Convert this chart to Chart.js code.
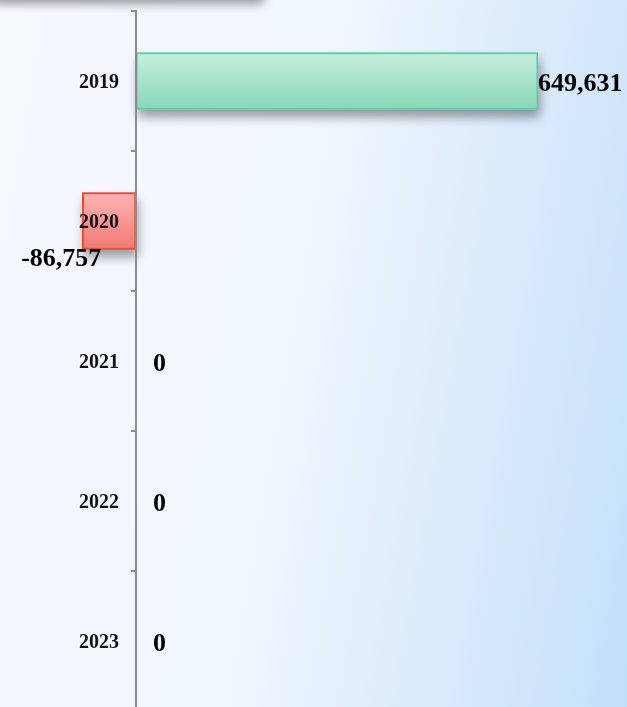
<!DOCTYPE html>
<html>
<head>
<meta charset="utf-8">
<script src="https://cdn.jsdelivr.net/npm/chart.js@4"></script>
<style>
    html, body {margin: 0; padding: 0; overflow: hidden;}
    body {
        width: 627px; height: 707px; position: relative;
        background: linear-gradient(100deg, #f6f9fe 0%, #f1f7fe 45%, #dbebfb 72%, #c2e0f9 100%);
    }
    #topbox {
        position: absolute; left: -10px; top: -40px; width: 275px; height: 40px;
        background: #f4f8fd; border-radius: 6px;
        box-shadow: 0 4px 10px rgba(0, 0, 0, 0.38);
    }
    #wrap {position: absolute; left: 0; top: 0; width: 627px; height: 720px;}
</style>
</head>
<body>
<div id="topbox"></div>
<div id="wrap"><canvas id="bar-chart" width="627" height="720"></canvas></div>
<script>
var years = ['2019', '2020', '2021', '2022', '2023'];
var values = [649631, -86757, 0, 0, 0];

var posColors = ['#c5eedc', '#8ad8b8', '#5dd2aa'];   // top, bottom, border
var negColors = ['#fdb4b2', '#f07a76', '#f04a2e'];

function barFill(c) {
    var v = values[c.dataIndex];
    if (v === 0) return 'rgba(0,0,0,0)';
    var cols = v > 0 ? posColors : negColors;
    var y = c.chart.scales.y;
    var cy = y ? y.getPixelForValue(c.dataIndex) : NaN;
    if (!isFinite(cy)) return cols[1];
    var g = c.chart.ctx.createLinearGradient(0, cy - 28, 0, cy + 28);
    g.addColorStop(0, cols[0]);
    g.addColorStop(1, cols[1]);
    return g;
}

// soft drop shadow under each bar, drawn from the bar elements before the bars
var shadowPlugin = {
    id: 'barShadow',
    beforeDatasetsDraw: function(chart) {
        var ctx = chart.ctx;
        var meta = chart.getDatasetMeta(0);
        meta.data.forEach(function(bar, i) {
            if (values[i] === 0) return;
            var p = bar.getProps(['x', 'y', 'base', 'height'], true);
            var left = Math.min(p.x, p.base);
            var w = Math.abs(p.x - p.base);
            ctx.save();
            ctx.shadowColor = 'rgba(0,0,0,0.38)';
            ctx.shadowBlur = 10;
            ctx.shadowOffsetX = 2;
            ctx.shadowOffsetY = 7;
            ctx.fillStyle = values[i] > 0 ? posColors[1] : negColors[1];
            ctx.fillRect(left, p.y - p.height / 2, w, p.height);
            ctx.restore();
        });
    }
};

var labelPlugin = {
    id: 'valueLabels',
    afterDatasetsDraw: function(chart) {
        var ctx = chart.ctx;
        var meta = chart.getDatasetMeta(0);
        ctx.save();
        ctx.font = 'bold 26px "Liberation Serif"';
        ctx.fillStyle = '#000';
        ctx.textBaseline = 'middle';
        meta.data.forEach(function(bar, i) {
            var v = values[i];
            var txt = v.toLocaleString('en-US');
            if (v < 0) {
                ctx.textAlign = 'right';
                ctx.fillText(txt, bar.x + 19, bar.y + 38);
            } else {
                ctx.textAlign = 'left';
                ctx.fillText(txt, bar.x + (v === 0 ? 17 : 0), bar.y + 3);
            }
        });
        ctx.restore();
    }
};

new Chart(document.getElementById('bar-chart'), {
    type: 'bar',
    data: {
        labels: years,
        datasets: [{
            data: values,
            backgroundColor: barFill,
            borderColor: function(c) {
                var v = values[c.dataIndex];
                if (v === 0) return 'rgba(0,0,0,0)';
                return v > 0 ? posColors[2] : negColors[2];
            },
            borderWidth: 2,
            borderSkipped: false,
            barThickness: 57,
            clip: false
        }]
    },
    options: {
        indexAxis: 'y',
        responsive: false,
        animation: false,
        layout: {padding: {left: 0, right: 0, top: 11, bottom: 9}},
        plugins: {legend: {display: false}, tooltip: {enabled: false}},
        scales: {
            x: {display: false, min: 0, max: 793500},
            y: {
                position: 'left',
                afterFit: function(scale) {
                    scale.width = 136;
                    scale.paddingTop = 0;
                    scale.paddingBottom = 0;
                },
                grid: {offset: true, drawOnChartArea: false, tickLength: 5, color: '#8c8c8c', lineWidth: 2, z: 1},
                border: {color: '#8c8c8c', width: 2, z: 1},
                ticks: {
                    z: 1,
                    padding: 12,
                    labelOffset: 2,
                    color: '#111',
                    font: {family: 'Liberation Serif', size: 20, weight: 'bold'}
                }
            }
        }
    },
    plugins: [shadowPlugin, labelPlugin]
});
</script>
</body>
</html>
